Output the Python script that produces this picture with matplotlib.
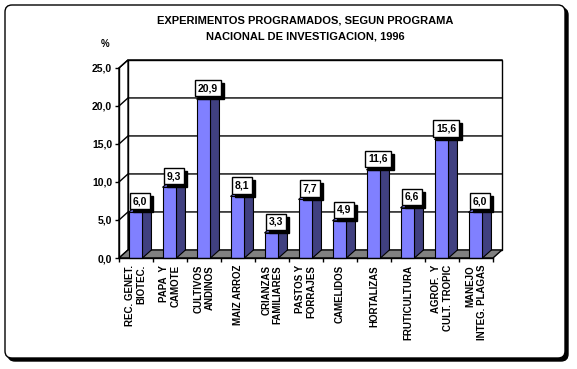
import matplotlib

matplotlib.use("Agg")

import matplotlib.pyplot as plt
from matplotlib.patches import FancyBboxPatch, Polygon, Rectangle


CATEGORIES = [
    "REC. GENET.\nBIOTEC.",
    "PAPA  Y\nCAMOTE",
    "CULTIVOS\nANDINOS",
    "MAIZ ARROZ",
    "CRIANZAS\nFAMILIARES",
    "PASTOS Y\nFORRAJES",
    "CAMELIDOS",
    "HORTALIZAS",
    "FRUTICULTURA",
    "AGROF.  Y\nCULT. TROPIC",
    "MANEJO\nINTEG. PLAGAS",
]
VALUES = [6.0, 9.3, 20.9, 8.1, 3.3, 7.7, 4.9, 11.6, 6.6, 15.6, 6.0]
Y_TICKS = [0, 5, 10, 15, 20, 25]
Y_TICK_LABELS = ["0,0", "5,0", "10,0", "15,0", "20,0", "25,0"]
TITLE = "EXPERIMENTOS PROGRAMADOS, SEGUN PROGRAMA\nNACIONAL DE INVESTIGACION, 1996"

FRONT = "#8080FF"
SIDE = "#404080"
FLOOR = "#808080"

# fake 3d depth, in data units (categories / percent)
DX = 0.265
DY = 1.06
BAR_OFF = 0.28
BAR_W = 0.41

plt.rcParams["font.family"] = ["Liberation Sans", "DejaVu Sans"]
plt.rcParams["font.weight"] = "bold"

fig = plt.figure(figsize=(5.77, 3.69), dpi=100)
fig.patch.set_facecolor("white")

# rounded frame with shadow
shadow = FancyBboxPatch((0.08, 0.08), 5.60, 3.53, boxstyle="round,pad=0,rounding_size=0.07",
                        transform=fig.dpi_scale_trans, facecolor="black", edgecolor="black",
                        lw=1, zorder=-2)
frame = FancyBboxPatch((0.05, 0.11), 5.60, 3.53, boxstyle="round,pad=0,rounding_size=0.07",
                       transform=fig.dpi_scale_trans, facecolor="white", edgecolor="black",
                       lw=1, zorder=-1)
fig.add_artist(shadow)
fig.add_artist(frame)

n = len(VALUES)
ymax = Y_TICKS[-1]

ax = fig.add_axes([119 / 577, 111 / 369, 374 / 577, 190 / 369])
ax.set_xlim(0, n)
ax.set_ylim(0, ymax)
ax.set_facecolor("none")

# back wall, side wall, floor
ax.add_patch(Polygon([(DX, DY), (n + DX, DY), (n + DX, ymax + DY), (DX, ymax + DY)],
                     closed=True, facecolor="white", edgecolor="black", lw=1, clip_on=False, zorder=1))
ax.add_patch(Polygon([(0, 0), (DX, DY), (DX, ymax + DY), (0, ymax)],
                     closed=True, facecolor="white", edgecolor="black", lw=1, clip_on=False, zorder=1))
for v in Y_TICKS[1:]:
    ax.plot([0, DX, n + DX], [v, v + DY, v + DY], color="black", lw=1, clip_on=False, zorder=1.5)
ax.add_patch(Polygon([(0, 0), (n, 0), (n + DX, DY), (DX, DY)],
                     closed=True, facecolor=FLOOR, edgecolor="black", lw=1, clip_on=False, zorder=2))

# bars
for i, v in enumerate(VALUES):
    x0 = i + BAR_OFF
    x1 = x0 + BAR_W
    ax.add_patch(Polygon([(x1, 0), (x1 + DX, DY), (x1 + DX, v + DY), (x1, v)],
                         closed=True, facecolor=SIDE, edgecolor="black", lw=0.8, clip_on=False, zorder=3))
    ax.add_patch(Polygon([(x0, v), (x1, v), (x1 + DX, v + DY), (x0 + DX, v + DY)],
                         closed=True, facecolor=FRONT, edgecolor="black", lw=0.8, clip_on=False, zorder=3))
    ax.add_patch(Rectangle((x0, 0), BAR_W, v, facecolor=FRONT, edgecolor="black", lw=0.8,
                           clip_on=False, zorder=3))

    label = f"{v:.1f}".replace(".", ",")
    xy = (x0 + BAR_W / 2 + DX / 2, v + DY / 2)
    ax.annotate(label, xy, xytext=(3, 4), textcoords="offset pixels", ha="center", va="center",
                fontsize=7.5, fontweight="bold", color="black", zorder=4,
                bbox=dict(boxstyle="square,pad=0.3", facecolor="black", edgecolor="black", lw=1))
    ax.annotate(label, xy, xytext=(0, 7), textcoords="offset pixels", ha="center", va="center",
                fontsize=7.5, fontweight="bold", color="black", zorder=5,
                bbox=dict(boxstyle="square,pad=0.3", facecolor="white", edgecolor="black", lw=1))

# axes
ax.spines[["top", "right"]].set_visible(False)
for side in ["left", "bottom"]:
    ax.spines[side].set_linewidth(1)
    ax.spines[side].set_zorder(3.5)

ax.set_yticks(Y_TICKS, Y_TICK_LABELS)
ax.tick_params(axis="y", direction="out", length=3, width=1, pad=2, labelsize=7.5)
ax.set_xticks(range(n + 1), [""] * (n + 1))
ax.tick_params(axis="x", which="major", direction="out", length=3, width=1)
ax.set_xticks([i + 0.5 for i in range(n)], CATEGORIES, minor=True)
ax.tick_params(axis="x", which="minor", length=0, pad=5, labelsize=7)
for lbl in ax.get_xticklabels(minor=True):
    lbl.set_rotation(90)
    lbl.set_multialignment("right")
    lbl.set_fontweight("bold")
    lbl.set_linespacing(1.15)
for lbl in ax.get_yticklabels():
    lbl.set_fontweight("bold")

fig.text(305 / 577, 1 - 28.5 / 369, TITLE, ha="center", va="center", fontsize=8,
         fontweight="bold", linespacing=1.8)
fig.text(105 / 577, 1 - 44 / 369, "%", ha="center", va="center", fontsize=7, fontweight="bold")

fig.savefig("out.png", dpi=100, facecolor="white")
